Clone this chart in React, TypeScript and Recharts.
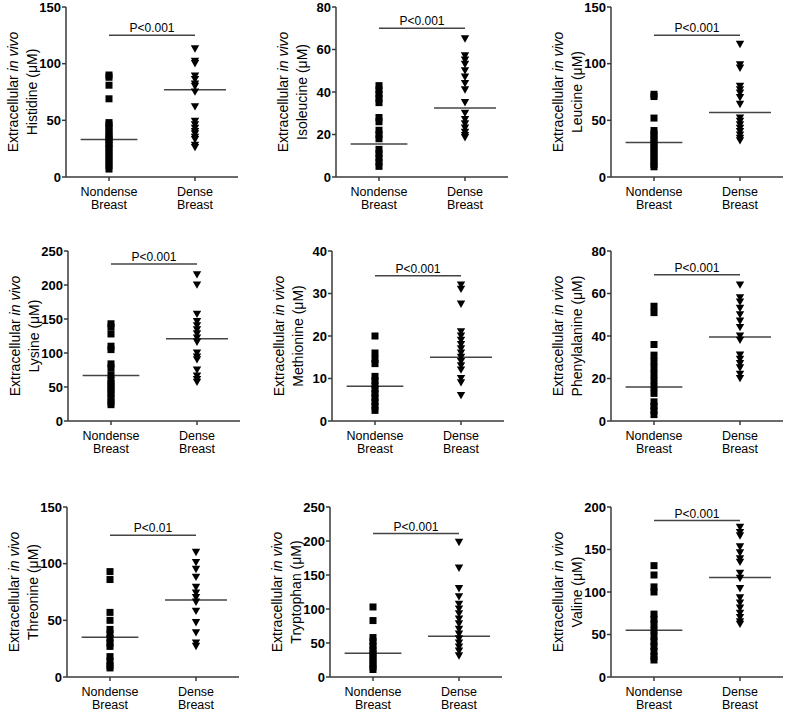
import React from "react";
import {
  ScatterChart,
  Scatter,
  XAxis,
  YAxis,
  ReferenceLine,
} from "recharts";

// values (µM)
const histidineNondense = [90, 88, 81, 69, 48, 46, 43, 40, 37, 35, 33, 30, 28, 25, 22, 19, 16, 13, 10, 7];
const histidineDense = [113, 102, 100, 89, 86, 82, 80, 75, 62, 49, 46, 43, 40, 38, 35, 33, 28, 26];
const isoleucineNondense = [43, 41, 39, 37, 35, 28, 26, 22, 20, 18, 13, 11, 9, 7, 5];
const isoleucineDense = [65, 57, 55, 53, 50, 47, 44, 41, 35, 30, 27, 25, 23, 21, 19.5, 18.5];
const leucineNondense = [73, 71, 52, 41, 38, 35, 32, 29, 26, 23, 20, 17, 14, 11, 9];
const leucineDense = [117, 99, 96, 80, 77, 74, 70, 64, 52, 49, 46, 43, 40, 37, 34, 32];
const lysineNondense = [143, 138, 128, 110, 105, 84, 78, 68, 60, 55, 50, 45, 40, 34, 28, 24];
const lysineDense = [215, 200, 157, 146, 140, 134, 128, 122, 116, 100, 94, 90, 75, 66, 61, 57];
const methionineNondense = [20, 16, 14.5, 13.5, 10.5, 9.5, 8.5, 7.5, 6.5, 5.5, 4.5, 3.5, 2.5];
const methionineDense = [32, 31, 27.5, 21, 20, 19, 18, 17, 16, 15, 14, 13, 12, 10, 9, 6];
const phenylalanineNondense = [54, 51, 36, 31, 28, 25, 22, 19, 16, 13, 9, 7, 5, 3];
const phenylalanineDense = [64, 58, 56, 53, 50, 47, 44, 40, 38, 31, 29, 27, 25, 22, 20];
const threonineNondense = [93, 86, 57, 50, 42, 38, 34, 30, 27, 18, 14, 10, 8];
const threonineDense = [110, 101, 95, 88, 79, 74, 70, 66, 58, 48, 39, 30, 27];
const tryptophanNondense = [103, 83, 58, 52, 46, 40, 35, 30, 25, 20, 15, 11];
const tryptophanDense = [198, 160, 130, 118, 107, 100, 93, 85, 78, 70, 63, 56, 50, 44, 38, 31];
const valineNondense = [131, 120, 106, 100, 74, 68, 62, 55, 48, 42, 36, 30, 24, 20];
const valineDense = [176, 170, 166, 153, 146, 139, 135, 122, 116, 104, 93, 87, 81, 75, 70, 65, 62];

const aminoAcids = ["Histidine", "Isoleucine", "Leucine", "Lysine", "Methionine", "Phenylalanine", "Threonine", "Tryptophan", "Valine"];
const mediansNondense = [33, 15.5, 30.5, 67, 8.2, 16, 35, 35, 55];
const mediansDense = [77, 32.5, 57, 121, 15, 39.5, 68, 60, 117];
const sigBarY = [125, 70, 125, 231, 34.2, 68.8, 125, 211, 184];
const sigText = ["P<0.001", "P<0.001", "P<0.001", "P<0.001", "P<0.001", "P<0.001", "P<0.01", "P<0.001", "P<0.001"];
const yTicks = [
  [0, 50, 100, 150],
  [0, 20, 40, 60, 80],
  [0, 50, 100, 150],
  [0, 50, 100, 150, 200, 250],
  [0, 10, 20, 30, 40],
  [0, 20, 40, 60, 80],
  [0, 50, 100, 150],
  [0, 50, 100, 150, 200, 250],
  [0, 50, 100, 150, 200],
];
const groupLabels = [["Nondense", "Breast"], ["Dense", "Breast"]];

const nondense = [histidineNondense, isoleucineNondense, leucineNondense, lysineNondense, methionineNondense, phenylalanineNondense, threonineNondense, tryptophanNondense, valineNondense];
const dense = [histidineDense, isoleucineDense, leucineDense, lysineDense, methionineDense, phenylalanineDense, threonineDense, tryptophanDense, valineDense];

// where each panel's y axis sits on the page
const layout = [
  { axisX: 66, top: 7 }, { axisX: 336, top: 7 }, { axisX: 611, top: 7 },
  { axisX: 68, top: 251 }, { axisX: 332, top: 251 }, { axisX: 611, top: 251 },
  { axisX: 67, top: 507 }, { axisX: 330, top: 507 }, { axisX: 611, top: 507 },
];

const FONT = "'Liberation Sans', Arial, Helvetica, sans-serif";
const AXIS = "#3a3a3a";
const Y_AXIS_W = 66;
const PLOT_W = 172;
const PLOT_H = 170;
const X_AXIS_H = 36;

const Square = (p: any) => (
  <rect x={p.cx - 3.5} y={p.cy - 3.5} width={7} height={7} fill="#000" />
);
const TriDown = (p: any) => (
  <path d={`M${p.cx - 4.2},${p.cy - 3.6}L${p.cx + 4.2},${p.cy - 3.6}L${p.cx},${p.cy + 3.8}Z`} fill="#000" />
);

const XTick = (p: any) => {
  const lines = groupLabels[p.payload.value];
  return (
    <g>
      <text x={p.x} y={p.y + 13} textAnchor="middle" fontSize={12.5} fill="#000" fontFamily={FONT}>{lines[0]}</text>
      <text x={p.x} y={p.y + 26} textAnchor="middle" fontSize={12.5} fill="#000" fontFamily={FONT}>{lines[1]}</text>
    </g>
  );
};

const YLabel = (p: any) => {
  const vb = p.viewBox || {};
  const ax = vb.x + vb.width;
  const cy = vb.y + vb.height / 2;
  return (
    <g fontFamily={FONT} fontSize={14} fill="#000">
      <text transform={`translate(${ax - 53},${cy}) rotate(-90)`} textAnchor="middle" dominantBaseline="central">
        Extracellular <tspan fontStyle="italic">in vivo</tspan>
      </text>
      <text transform={`translate(${ax - 34},${cy}) rotate(-90)`} textAnchor="middle" dominantBaseline="central">
        {p.name} (μM)
      </text>
    </g>
  );
};

function Panel({ i }: { i: number }) {
  const ticks = yTicks[i];
  const yMax = ticks[ticks.length - 1];
  const pos = layout[i];
  const nd = nondense[i].map((v) => ({ x: 0, y: v }));
  const de = dense[i].map((v) => ({ x: 1, y: v }));
  return (
    <div style={{ position: "absolute", left: pos.axisX - Y_AXIS_W, top: pos.top - 7 }}>
      <ScatterChart
        width={Y_AXIS_W + PLOT_W + 4}
        height={7 + PLOT_H + X_AXIS_H}
        margin={{ top: 7, right: 4, bottom: 0, left: 0 }}
        style={{ fontFamily: FONT }}
      >
        <XAxis
          type="number"
          dataKey="x"
          domain={[-0.5, 1.5]}
          ticks={[0, 1]}
          interval={0}
          height={X_AXIS_H}
          tick={<XTick />}
          tickSize={4}
          tickMargin={2}
          axisLine={{ stroke: AXIS, strokeWidth: 1.5 }}
          tickLine={{ stroke: AXIS, strokeWidth: 1.5 }}
        />
        <YAxis
          type="number"
          dataKey="y"
          domain={[0, yMax]}
          ticks={ticks}
          interval={0}
          width={Y_AXIS_W}
          tickSize={4}
          tickMargin={1}
          tick={{ fill: "#000", fontSize: 13, fontWeight: "bold", fontFamily: FONT }}
          axisLine={{ stroke: AXIS, strokeWidth: 1.5 }}
          tickLine={{ stroke: AXIS, strokeWidth: 1.5 }}
          label={<YLabel name={aminoAcids[i]} />}
        />
        <Scatter data={nd} shape={Square} isAnimationActive={false} />
        <Scatter data={de} shape={TriDown} isAnimationActive={false} />
        <ReferenceLine
          segment={[{ x: -0.33, y: mediansNondense[i] }, { x: 0.33, y: mediansNondense[i] }]}
          stroke="#444"
          strokeWidth={1.5}
        />
        <ReferenceLine
          segment={[{ x: 0.64, y: mediansDense[i] }, { x: 1.36, y: mediansDense[i] }]}
          stroke="#444"
          strokeWidth={1.5}
        />
        <ReferenceLine
          segment={[{ x: 0, y: sigBarY[i] }, { x: 1, y: sigBarY[i] }]}
          stroke="#444"
          strokeWidth={1.5}
          label={{ value: sigText[i], position: "top", offset: 3, fill: "#000", fontSize: 12, fontFamily: FONT }}
        />
      </ScatterChart>
    </div>
  );
}

export default function App() {
  return (
    <div
      style={{
        position: "absolute",
        left: 0,
        top: 0,
        width: 787,
        height: 712,
        overflow: "hidden",
        background: "#fff",
        fontFamily: FONT,
      }}
    >
      {aminoAcids.map((_, i) => (
        <Panel key={i} i={i} />
      ))}
    </div>
  );
}
